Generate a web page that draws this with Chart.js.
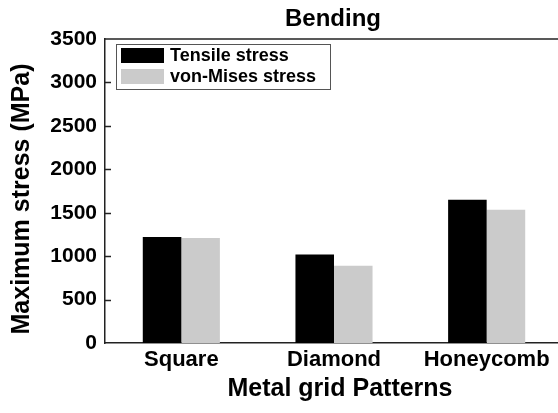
<!DOCTYPE html>
<html>
<head>
<meta charset="utf-8">
<script src="https://cdn.jsdelivr.net/npm/chart.js@4.4.0/dist/chart.umd.min.js"></script>
<style>
    html, body { margin: 0; padding: 0; background: #fff; overflow: hidden; }
    #wrap { width: 558px; height: 413px; overflow: hidden; position: relative; }
    canvas { display: block; }
</style>
</head>
<body>
<div id="wrap"><canvas id="barChart" width="563" height="413"></canvas></div>
<script>
const patterns = ["Square", "Diamond", "Honeycomb"];
const tensileStress = [1220, 1020, 1650];
const vonMisesStress = [1210, 890, 1535];
const seriesNames = ["Tensile stress", "von-Mises stress"];
const seriesColors = ["#000000", "#cbcbcb"];

const FONT = "'Liberation Sans', Arial, Helvetica, sans-serif";

// title, axis titles, top frame line, inward y ticks and the boxed legend
const decorations = {
    id: "decorations",
    afterDraw(chart) {
        const ctx = chart.ctx;
        const area = chart.chartArea;
        const y = chart.scales.y;
        ctx.save();

        ctx.fillStyle = "#000";
        ctx.textAlign = "center";
        ctx.textBaseline = "middle";
        ctx.font = "bold 24px " + FONT;
        ctx.fillText("Bending", (area.left + area.right) / 2 - 1, 19);

        ctx.font = "bold 25px " + FONT;
        ctx.fillText("Metal grid Patterns", 340, 389);

        ctx.save();
        ctx.translate(22, 199);
        ctx.rotate(-Math.PI / 2);
        ctx.fillText("Maximum stress (MPa)", 0, 0);
        ctx.restore();

        ctx.strokeStyle = "#222";
        ctx.lineWidth = 1.5;
        ctx.beginPath();
        ctx.moveTo(area.left, area.top);
        ctx.lineTo(area.right, area.top);
        ctx.stroke();

        y.ticks.forEach(t => {
            if (t.value <= y.min || t.value >= y.max) return;
            const py = Math.round(y.getPixelForValue(t.value)) + 0.5;
            ctx.beginPath();
            ctx.moveTo(area.left, py);
            ctx.lineTo(area.left + 6, py);
            ctx.stroke();
        });

        // legend
        const lx = area.left + 11, ly = area.top + 5;
        ctx.strokeStyle = "#555";
        ctx.lineWidth = 1;
        ctx.strokeRect(lx + 0.5, ly + 0.5, 214, 45);
        ctx.font = "bold 18px " + FONT;
        ctx.textAlign = "left";
        chart.data.datasets.forEach((ds, i) => {
            const top = ly + 4 + i * 21;
            ctx.fillStyle = ds.backgroundColor;
            ctx.fillRect(lx + 5, top, 43, 15);
            ctx.fillStyle = "#000";
            ctx.fillText(ds.label, lx + 54, top + 8);
        });
        ctx.restore();
    }
};

new Chart(document.getElementById("barChart").getContext("2d"), {
    type: "bar",
    data: {
        labels: patterns,
        datasets: [
            { label: seriesNames[0], data: tensileStress, backgroundColor: seriesColors[0] },
            { label: seriesNames[1], data: vonMisesStress, backgroundColor: seriesColors[1] }
        ]
    },
    options: {
        responsive: false,
        animation: false,
        devicePixelRatio: 1,
        layout: { padding: { top: 39, right: 0, left: 0, bottom: 0 } },
        datasets: {
            bar: { categoryPercentage: 0.505, barPercentage: 1.0, borderWidth: 0 }
        },
        plugins: {
            legend: { display: false },
            title: { display: false },
            tooltip: { enabled: false }
        },
        scales: {
            x: {
                afterFit(scale) { scale.height = 70; },
                grid: { display: false, drawTicks: false },
                border: { display: true, color: "#222", width: 1.5 },
                ticks: {
                    color: "#000",
                    padding: 4,
                    font: { family: FONT, size: 22, weight: "bold" }
                }
            },
            y: {
                min: 0,
                max: 3500,
                afterFit(scale) { scale.width = 105; },
                grid: { display: false, drawTicks: false },
                border: { display: true, color: "#222", width: 1.5 },
                ticks: {
                    stepSize: 500,
                    color: "#000",
                    padding: 8,
                    callback: v => String(v),
                    font: { family: FONT, size: 21, weight: "bold" }
                }
            }
        }
    },
    plugins: [decorations]
});
</script>
</body>
</html>
